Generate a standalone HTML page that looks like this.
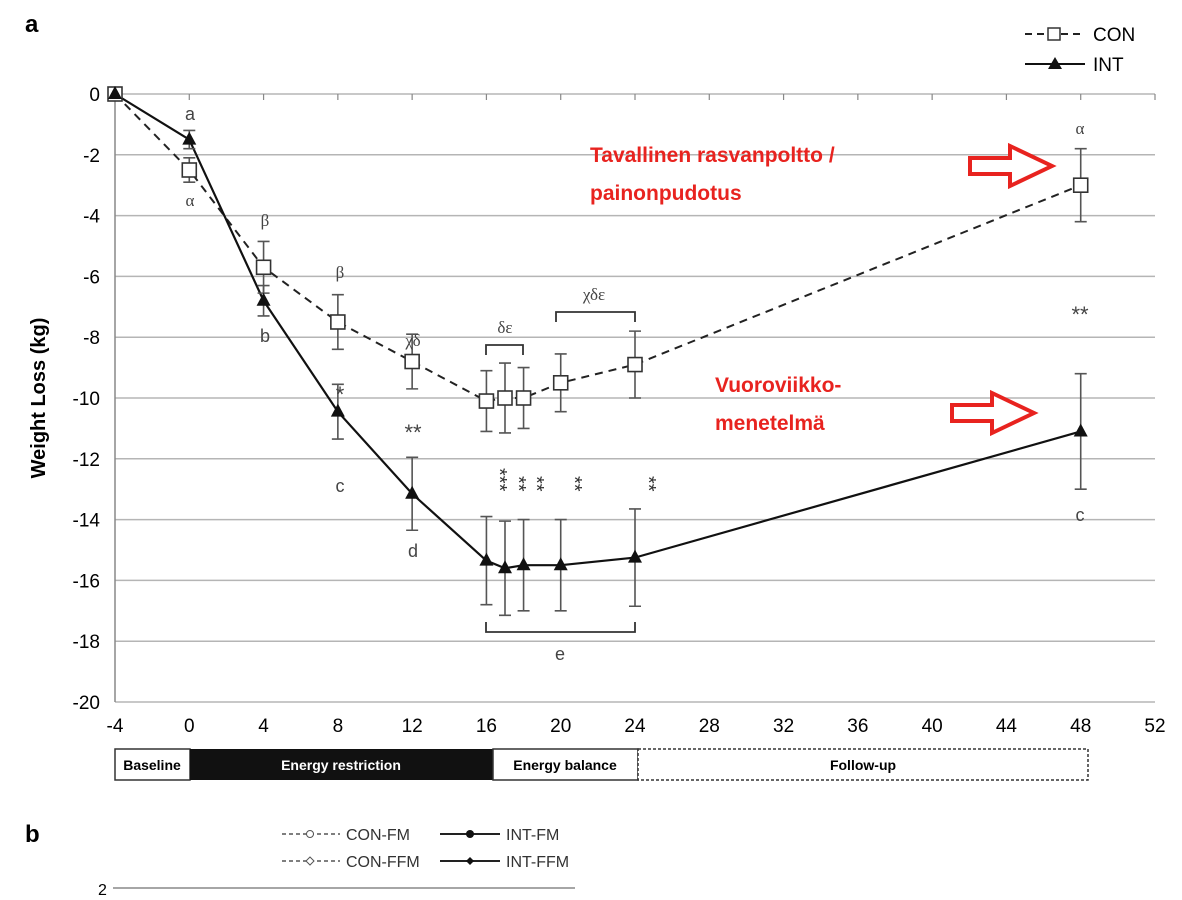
<!DOCTYPE html>
<html><head><meta charset="utf-8"><style>
body{margin:0;background:#fff;}
svg{display:block;font-family:"Liberation Sans",sans-serif;}
.red{fill:#e8231f;font-family:"Liberation Sans",sans-serif;font-weight:bold;font-size:21px;}
</style></head><body>
<svg id="chart" width="1182" height="900">
<text x="25" y="32" font-size="24" font-weight="bold">a</text>
<text x="25" y="842" font-size="24" font-weight="bold">b</text>
<g id="grid"></g><g id="axes"></g><g id="series"></g><g id="annot"></g>
</svg>
<script>
const weeks=[-4,0,4,8,12,16,17,18,20,24,48];
const conValues=[0,-2.5,-5.7,-7.5,-8.8,-10.1,-10.0,-10.0,-9.5,-8.9,-3.0];
const conErr=[0,0.4,0.85,0.9,0.9,1.0,1.15,1.0,0.95,1.1,1.2];
const intValues=[0,-1.5,-6.8,-10.45,-13.15,-15.35,-15.6,-15.5,-15.5,-15.25,-11.1];
const intErr=[0,0.3,0.5,0.9,1.2,1.45,1.55,1.5,1.5,1.6,1.9];
const xTicks=[-4,0,4,8,12,16,20,24,28,32,36,40,44,48,52];
const yTicks=[0,-2,-4,-6,-8,-10,-12,-14,-16,-18,-20];
const NS='http://www.w3.org/2000/svg';
const X=v=>115+(v+4)*(1040/56);
const Y=v=>94+(-v)*(608/20);
function mk(tag,attrs,parent,text){const e=document.createElementNS(NS,tag);for(const k in attrs)e.setAttribute(k,attrs[k]);if(text!==undefined)e.textContent=text;document.getElementById(parent)?document.getElementById(parent).appendChild(e):parent.appendChild(e);return e;}
// grid + y ticks
yTicks.forEach(t=>{
 const l=mk('line',{x1:115,x2:1155,y1:Y(t),y2:Y(t),stroke:'#b5b5b5','stroke-width':1.5},'grid');
 
 
 const tx=mk('text',{x:100,y:Y(t)+7,'text-anchor':'end','font-size':19},'axes',String(t));
 
 
});
const ax=mk('line',{x1:115,x2:115,y1:Y(0),y2:Y(-20),stroke:'#888','stroke-width':1.5},'axes');


xTicks.forEach(t=>{
 const tl=mk('line',{x1:X(t),x2:X(t),y1:Y(0),y2:Y(0)+6,stroke:'#888','stroke-width':1.2},'axes');
 
 
 const tx=mk('text',{x:X(t),y:732,'text-anchor':'middle','font-size':19},'axes',String(t));
 
 
});
const yt=mk('text',{x:0,y:0,transform:'translate(45,398) rotate(-90)','text-anchor':'middle','font-size':20,'font-weight':'bold'},'axes','Weight Loss (kg)');


// series
function pts(vals){return weeks.map((w,i)=>X(w)+','+Y(vals[i])).join(' ');}
const cl=mk('polyline',{points:pts(conValues),fill:'none',stroke:'#222','stroke-width':2,'stroke-dasharray':'8,6'},'series');


const il=mk('polyline',{points:pts(intValues),fill:'none',stroke:'#111','stroke-width':2.2},'series');


function err(vals,errs,name){weeks.forEach((w,i)=>{if(!errs[i])return;const x=X(w),a=Y(vals[i]+errs[i]),b=Y(vals[i]-errs[i]);
 const g=mk('path',{d:`M${x},${a}V${b}M${x-6},${a}H${x+6}M${x-6},${b}H${x+6}`,stroke:'#555','stroke-width':1.6,fill:'none'},'series');
 
 });}
err(conValues,conErr,'con-error-bar');err(intValues,intErr,'int-error-bar');
weeks.forEach((w,i)=>{
 const s=mk('rect',{x:X(w)-7,y:Y(conValues[i])-7,width:14,height:14,fill:'#fff',stroke:'#333','stroke-width':1.6},'series');
 
 
 const x=X(w),y=Y(intValues[i]);
 const t=mk('polygon',{points:`${x},${y-8} ${x-7},${y+5} ${x+7},${y+5}`,fill:'#111'},'series');
 
 
});
// annotations
const notes=[[190,120,'a',18,'sans'],[190,206,'α',17,'serif'],[265,226,'β',17,'serif'],[265,342,'b',18,'sans'],[340,278,'β',17,'serif'],[340,402,'*',22,'sans'],[340,492,'c',18,'sans'],[413,346,'χδ',17,'serif'],[413,440,'**',22,'sans'],[413,557,'d',18,'sans'],[505,333,'δε',17,'serif'],[594,300,'χδε',17,'serif'],[1080,134,'α',17,'serif'],[1080,322,'**',22,'sans'],[1080,521,'c',18,'sans'],[560,660,'e',18,'sans']];
notes.forEach(n=>{const t=mk('text',{x:n[0],y:n[1],'text-anchor':'middle','font-size':n[3],fill:'#444','font-family':n[4]==='serif'?'Liberation Serif,serif':'Liberation Sans,sans-serif'},'annot',n[2]);
 
 });
const vst=[[486,'***'],[505,'**'],[523,'**'],[561,'**'],[635,'**']];
vst.forEach(v=>{const t=mk('text',{x:0,y:0,transform:`translate(${v[0]+7},${v[1]==='***'?468:476}) rotate(90)`,'font-size':20,fill:'#333'},'annot',v[1]);
 
 });
[[486,523,355,345],[556,635,322,312]].forEach(b=>{const p=mk('path',{d:`M${b[0]},${b[2]}V${b[3]}H${b[1]}V${b[2]}`,stroke:'#333','stroke-width':1.8,fill:'none'},'annot');
 
 });
const bb=mk('path',{d:'M486,622V632H635V622',stroke:'#333','stroke-width':1.8,fill:'none'},'annot');


</script>
<svg style="position:absolute;left:0;top:0" width="1182" height="900">
<g>
<line x1="1025" y1="34" x2="1085" y2="34" stroke="#222" stroke-width="2" stroke-dasharray="7,5"/>
<rect x="1048" y="28" width="12" height="12" fill="#fff" stroke="#333" stroke-width="1.5"/>
<text x="1093" y="41" font-size="19">CON</text>
<line x1="1025" y1="64" x2="1085" y2="64" stroke="#111" stroke-width="2"/>
<polygon points="1055,57 1048,69 1062,69" fill="#111"/>
<text x="1093" y="71" font-size="19">INT</text>
</g>
<text class="red" x="590" y="162">Tavallinen rasvanpoltto /</text>
<text class="red" x="590" y="200">painonpudotus</text>
<text class="red" x="715" y="392">Vuoroviikko-</text>
<text class="red" x="715" y="430">menetelmä</text>
<path d="M970,158H1010V146L1052,166L1010,186V174H970Z" fill="#fff" stroke="#e8231f" stroke-width="4"/>
<path d="M952,405H992V393L1034,413L992,433V421H952Z" fill="#fff" stroke="#e8231f" stroke-width="4"/>
<g font-size="14" font-weight="bold">
<rect x="115" y="749" width="75" height="31" fill="#fff" stroke="#333" stroke-width="1.5"/>
<text x="152" y="770" text-anchor="middle">Baseline</text>
<rect x="190" y="749" width="303" height="31" fill="#111"/>
<text x="341" y="770" text-anchor="middle" fill="#fff">Energy restriction</text>
<rect x="493" y="749" width="145" height="31" fill="#fff" stroke="#333" stroke-width="1.5"/>
<text x="565" y="770" text-anchor="middle">Energy balance</text>
<rect x="638" y="749" width="450" height="31" fill="#fff" stroke="#333" stroke-width="1.5" stroke-dasharray="3,2"/>
<text x="863" y="770" text-anchor="middle">Follow-up</text>
</g>
<g font-size="16" fill="#333">
<line x1="282" y1="834" x2="340" y2="834" stroke="#555" stroke-width="1.5" stroke-dasharray="4,3"/><circle cx="310" cy="834" r="3.5" fill="#fff" stroke="#555"/>
<text x="346" y="840">CON-FM</text>
<line x1="440" y1="834" x2="500" y2="834" stroke="#222" stroke-width="2"/><circle cx="470" cy="834" r="4" fill="#111"/>
<text x="506" y="840">INT-FM</text>
<line x1="282" y1="861" x2="340" y2="861" stroke="#555" stroke-width="1.5" stroke-dasharray="4,3"/><path d="M310,857L314,861L310,865L306,861Z" fill="#fff" stroke="#555"/>
<text x="346" y="867">CON-FFM</text>
<line x1="440" y1="861" x2="500" y2="861" stroke="#222" stroke-width="2"/><path d="M470,857L474,861L470,865L466,861Z" fill="#111"/>
<text x="506" y="867">INT-FFM</text>
</g>
<text x="98" y="895" font-size="16">2</text>
<line x1="113" y1="888" x2="575" y2="888" stroke="#888" stroke-width="1.5"/>
</svg>
</body></html>
